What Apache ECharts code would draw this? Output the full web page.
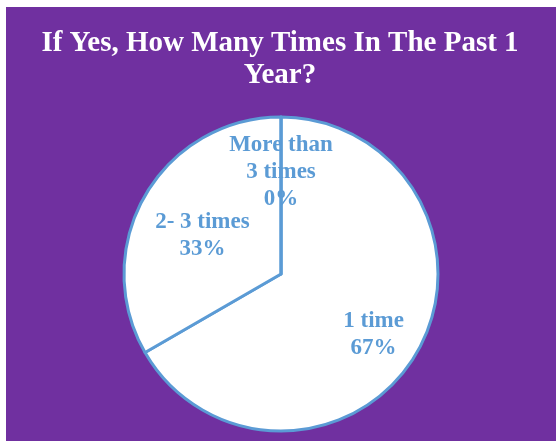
<!DOCTYPE html>
<html>
<head>
<meta charset="utf-8">
<script src="https://cdn.jsdelivr.net/npm/echarts@6/dist/echarts.min.js"></script>
<style>
  html, body { margin: 0; padding: 0; background: #ffffff; }
  #chart { width: 556px; height: 445px; }
</style>
</head>
<body>
<div id="chart"></div>
<script>
// Answer categories and respondent counts
const categories = ['1 time', '2- 3 times', 'More than\n3 times'];
const counts = [2, 1, 0];

const titleText = 'If Yes, How Many Times In The Past 1\nYear?';

const blue = '#5B9BD5';
const labelFont = {
  fontFamily: 'Liberation Serif, Times New Roman, serif',
  fontWeight: 'bold',
  fontSize: 23,
  lineHeight: 27,
  color: blue
};

// per-slice nudges for the inside labels
const labelOffsets = [[22, 20], [-8, 2], [0, -20]];

const chart = echarts.init(document.getElementById('chart'), null, { renderer: 'canvas' });

chart.setOption({
  backgroundColor: '#ffffff',
  animation: false,
  graphic: [{
    type: 'rect',
    z: -10,
    shape: { x: 6, y: 7, width: 550, height: 434 },
    style: { fill: '#7030A0' }
  }],
  title: {
    text: titleText,
    left: 275,
    textAlign: 'center',
    top: 23,
    textStyle: {
      fontFamily: 'Liberation Serif, Times New Roman, serif',
      fontWeight: 'bold',
      fontSize: 29,
      lineHeight: 32,
      color: '#ffffff'
    }
  },
  series: [{
    type: 'pie',
    center: [281, 274],
    radius: [0, 157],
    startAngle: 90,
    clockwise: true,
    percentPrecision: 0,
    minShowLabelAngle: 0,
    avoidLabelOverlap: false,
    labelLayout: { hideOverlap: false },
    itemStyle: {
      color: '#ffffff',
      borderColor: blue,
      borderWidth: 3
    },
    emphasis: { disabled: true },
    label: Object.assign({
      show: true,
      position: 'inside',
      formatter: '{b}\n{d}%',
      align: 'center'
    }, labelFont),
    labelLine: { show: false },
    data: categories.map((name, i) => ({
      name: name,
      value: counts[i],
      label: { offset: labelOffsets[i] }
    }))
  }]
});
</script>
</body>
</html>
